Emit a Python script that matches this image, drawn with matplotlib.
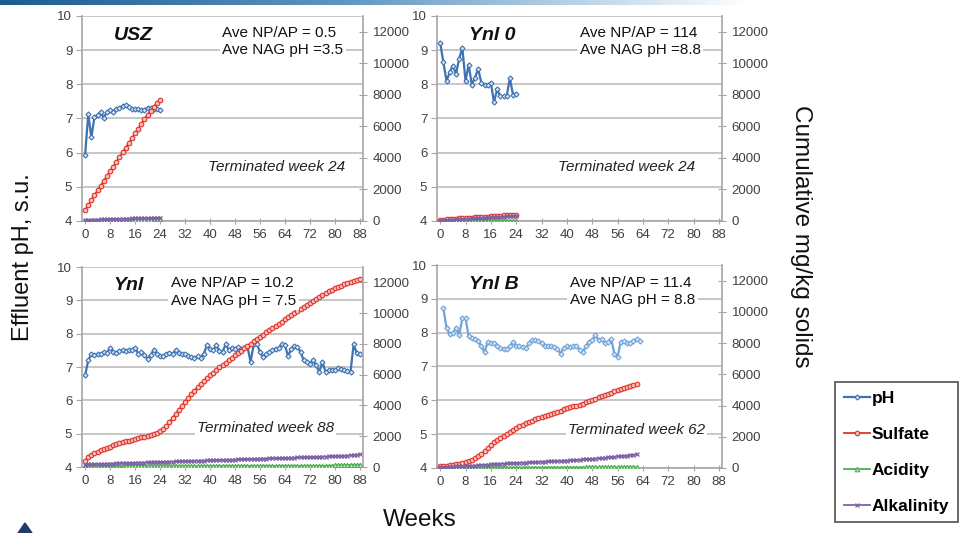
import numpy as np
import matplotlib.pyplot as plt
from matplotlib.colors import LinearSegmentedColormap
from matplotlib.patches import Polygon

plt.rcParams['font.family'] = ['Liberation Sans', 'DejaVu Sans']

W, H = 961, 533

# ---- data ----
week_ticks = list(range(0, 89, 8))

# USZ, weeks 0-24
usz_weeks = list(range(0, 25))
usz_ph = [5.94, 7.12, 6.45, 7.05, 7.1, 7.2, 7.02, 7.2, 7.25, 7.2, 7.28, 7.32, 7.37,
          7.4, 7.33, 7.28, 7.27, 7.27, 7.24, 7.25, 7.32, 7.3, 7.28, 7.27, 7.26]
usz_sulfate = [700, 1000, 1320, 1640, 1950, 2250, 2550, 2850, 3150, 3450, 3750, 4050, 4350,
               4650, 4950, 5250, 5550, 5850, 6150, 6450, 6750, 7000, 7250, 7500, 7700]
usz_acidity = [10, 10, 10, 10, 12, 12, 12, 14, 14, 15, 15, 16, 16,
               18, 18, 20, 40, 50, 60, 70, 80, 90, 100, 110, 120]
usz_alkalinity = [60, 70, 80, 90, 95, 100, 105, 110, 120, 125, 130, 135, 140,
                  150, 155, 160, 165, 170, 180, 185, 190, 200, 205, 210, 220]

# Ynl 0, weeks 0-24
ynl0_weeks = list(range(0, 25))
ynl0_ph = [9.22, 8.65, 8.1, 8.35, 8.55, 8.3, 8.75, 9.07, 8.1, 8.58, 7.98, 8.2, 8.45,
           8.05, 7.98, 7.98, 8.05, 7.48, 7.85, 7.65, 7.65, 7.65, 8.18, 7.7, 7.73]
ynl0_sulfate = [60, 80, 100, 120, 140, 150, 160, 175, 190, 200, 215, 230, 240,
                255, 270, 280, 295, 310, 320, 335, 350, 360, 375, 390, 400]
ynl0_acidity = [5, 5, 6, 6, 7, 7, 8, 8, 9, 9, 10, 10, 11,
                11, 12, 12, 13, 13, 14, 14, 15, 15, 16, 16, 17]
ynl0_alkalinity = [30, 45, 60, 75, 90, 100, 110, 125, 140, 150, 165, 180, 190,
                   200, 215, 225, 240, 250, 260, 275, 285, 300, 310, 320, 335]

# Ynl, weeks 0-88
ynl_weeks = list(range(0, 89))
ynl_ph = [6.75, 7.2, 7.38, 7.35, 7.4, 7.38, 7.45, 7.42, 7.58, 7.45,
          7.42, 7.48, 7.5, 7.48, 7.52, 7.5, 7.58, 7.4, 7.45, 7.35,
          7.25, 7.35, 7.52, 7.38, 7.32, 7.32, 7.4, 7.42, 7.4, 7.5,
          7.42, 7.38, 7.38, 7.32, 7.3, 7.28, 7.32, 7.28, 7.4, 7.65,
          7.55, 7.5, 7.65, 7.48, 7.45, 7.68, 7.52, 7.58, 7.55, 7.6,
          7.55, 7.58, 7.6, 7.15, 7.68, 7.7, 7.45, 7.3, 7.4, 7.45,
          7.5, 7.55, 7.58, 7.68, 7.65, 7.32, 7.55, 7.62, 7.6, 7.45,
          7.2, 7.15, 7.1, 7.2, 7.05, 6.85, 7.15, 6.85, 6.9, 6.92,
          6.9, 6.98, 6.95, 6.9, 6.88, 6.85, 7.68, 7.42, 7.38]
ynl_sulfate = [400, 650, 800, 900, 1000, 1080, 1160, 1240, 1320, 1400,
               1470, 1540, 1600, 1660, 1720, 1780, 1830, 1880, 1930, 1980,
               2030, 2080, 2140, 2220, 2330, 2480, 2680, 2920, 3180, 3450,
               3720, 3990, 4250, 4500, 4740, 4970, 5190, 5400, 5600, 5790,
               5970, 6140, 6310, 6470, 6630, 6790, 6950, 7110, 7270, 7420,
               7570, 7720, 7870, 8020, 8170, 8320, 8470, 8610, 8750, 8890,
               9030, 9170, 9310, 9450, 9590, 9730, 9870, 10010, 10150, 10290,
               10430, 10560, 10690, 10820, 10950, 11070, 11190, 11300, 11410, 11510,
               11610, 11700, 11790, 11870, 11950, 12030, 12100, 12170, 12240]
ynl_acidity = [20, 22, 24, 25, 26, 27, 28, 29, 30, 30,
               31, 32, 32, 33, 34, 34, 35, 36, 36, 37,
               38, 38, 39, 40, 40, 41, 42, 42, 43, 44,
               44, 45, 46, 46, 47, 48, 48, 49, 50, 50,
               51, 52, 52, 53, 54, 54, 55, 56, 56, 57,
               58, 58, 59, 60, 60, 61, 62, 62, 63, 64,
               64, 65, 66, 66, 67, 68, 68, 69, 70, 70,
               71, 72, 72, 73, 74, 74, 75, 76, 80, 90,
               100, 110, 120, 125, 130, 135, 140, 145, 150]
ynl_alkalinity = [150, 170, 180, 185, 190, 200, 205, 210, 220, 225,
                  230, 240, 245, 250, 260, 265, 270, 280, 285, 290,
                  300, 305, 310, 320, 325, 330, 340, 345, 350, 360,
                  365, 370, 380, 385, 390, 400, 405, 410, 420, 425,
                  430, 440, 445, 450, 460, 465, 470, 480, 485, 490,
                  500, 505, 510, 520, 525, 530, 540, 545, 550, 560,
                  565, 570, 580, 585, 590, 600, 605, 610, 620, 625,
                  630, 640, 645, 650, 660, 665, 670, 680, 685, 690,
                  700, 710, 720, 730, 740, 760, 780, 800, 830]

# Ynl B, pH weeks 1-63, others weeks 0-62
ynlb_ph_weeks = list(range(1, 64))
ynlb_ph = [8.72, 8.15, 7.95, 7.98, 8.15, 7.93, 8.42, 8.42, 7.9, 7.85,
           7.8, 7.75, 7.6, 7.42, 7.72, 7.68, 7.7, 7.62, 7.55, 7.52,
           7.52, 7.6, 7.72, 7.6, 7.6, 7.58, 7.55, 7.68, 7.78, 7.78,
           7.75, 7.7, 7.62, 7.6, 7.62, 7.58, 7.52, 7.38, 7.55, 7.6,
           7.58, 7.6, 7.62, 7.5, 7.42, 7.6, 7.72, 7.78, 7.92, 7.78,
           7.8, 7.7, 7.72, 7.82, 7.38, 7.28, 7.72, 7.75, 7.7, 7.68,
           7.75, 7.82, 7.75]
ynlb_weeks = list(range(0, 63))
ynlb_sulfate = [100, 120, 140, 170, 200, 230, 270, 320, 380, 440,
                520, 620, 750, 900, 1080, 1280, 1480, 1660, 1820, 1950,
                2060, 2200, 2330, 2440, 2550, 2660, 2760, 2860, 2960, 3040,
                3110, 3180, 3260, 3320, 3390, 3450, 3520, 3600, 3680, 3750,
                3830, 3880, 3940, 3990, 4050, 4130, 4210, 4290, 4370, 4450,
                4530, 4610, 4690, 4760, 4830, 4900, 4980, 5050, 5110, 5170,
                5220, 5300, 5380]
ynlb_acidity = [10, 10, 11, 11, 12, 12, 13, 13, 14, 14,
                15, 15, 16, 16, 17, 17, 18, 18, 19, 19,
                20, 20, 21, 21, 22, 22, 23, 23, 24, 24,
                25, 25, 26, 26, 27, 27, 28, 28, 29, 29,
                30, 30, 31, 31, 32, 32, 33, 33, 34, 34,
                35, 35, 36, 36, 37, 37, 38, 38, 39, 39,
                40, 40, 41]
ynlb_alkalinity = [50, 60, 70, 80, 90, 100, 110, 120, 130, 140,
                   150, 160, 170, 180, 200, 220, 240, 250, 260, 270,
                   280, 290, 300, 310, 320, 330, 340, 350, 360, 370,
                   380, 390, 400, 410, 420, 430, 440, 450, 460, 470,
                   480, 490, 500, 515, 530, 545, 560, 575, 590, 605,
                   620, 640, 660, 680, 700, 720, 740, 760, 780, 800,
                   830, 850, 870]

panels = [
    dict(box=(82, 16, 363, 221), name='USZ',
         stats='Ave NP/AP = 0.5\nAve NAG pH =3.5', stats_xy=(0.50, 0.875),
         term='Terminated week 24', term_xy=(0.45, 0.265),
         ph_x=usz_weeks, ph=usz_ph, x=usz_weeks, sulfate=usz_sulfate,
         acidity=usz_acidity, alkalinity=usz_alkalinity, ph_color='#3f72b0'),
    dict(box=(437, 16, 722, 221), name='Ynl 0',
         stats='Ave NP/AP = 114\nAve NAG pH =8.8', stats_xy=(0.50, 0.875),
         term='Terminated week 24', term_xy=(0.425, 0.265),
         ph_x=ynl0_weeks, ph=ynl0_ph, x=ynl0_weeks, sulfate=ynl0_sulfate,
         acidity=ynl0_acidity, alkalinity=ynl0_alkalinity, ph_color='#3f72b0'),
    dict(box=(82, 267, 363, 467), name='Ynl',
         stats='Ave NP/AP = 10.2\nAve NAG pH = 7.5', stats_xy=(0.317, 0.875),
         term='Terminated week 88', term_xy=(0.41, 0.195),
         ph_x=ynl_weeks, ph=ynl_ph, x=ynl_weeks, sulfate=ynl_sulfate,
         acidity=ynl_acidity, alkalinity=ynl_alkalinity, ph_color='#3f72b0'),
    dict(box=(437, 265, 722, 468), name='Ynl B',
         stats='Ave NP/AP = 11.4\nAve NAG pH = 8.8', stats_xy=(0.467, 0.87),
         term='Terminated week 62', term_xy=(0.46, 0.187),
         ph_x=ynlb_ph_weeks, ph=ynlb_ph, x=ynlb_weeks, sulfate=ynlb_sulfate,
         acidity=ynlb_acidity, alkalinity=ynlb_alkalinity, ph_color='#6fa3da'),
]

sulfate_color = '#e0332b'
acidity_color = '#4caf50'
alkalinity_color = '#7e62a8'
axis_gray = '#a6a6a6'
label_gray = '#404040'

fig = plt.figure(figsize=(W / 100, H / 100), dpi=100)

handles = None
for p in panels:
    l, t, r, b = p['box']
    ax = fig.add_axes([l / W, 1 - b / H, (r - l) / W, (b - t) / H])
    ax.set_xlim(-1, 89)
    ax.set_ylim(4, 10)
    ax.set_xticks(week_ticks)
    ax.set_yticks(range(4, 11))
    ax.grid(axis='y', color='#bdbdbd', lw=1.2)
    ax.set_axisbelow(True)
    for s in ['top', 'right']:
        ax.spines[s].set_visible(False)
    for s in ['left', 'bottom']:
        ax.spines[s].set_color(axis_gray)
        ax.spines[s].set_linewidth(1.2)
    ax.tick_params(axis='y', direction='out', length=4, color=axis_gray,
                   labelsize=9.5, labelcolor=label_gray, pad=3)
    ax.tick_params(axis='x', direction='inout', length=5, color=axis_gray,
                   labelsize=9.5, labelcolor=label_gray, pad=3)

    ax2 = ax.twinx()
    ax2.set_ylim(0, 13000)
    ax2.set_yticks(range(0, 12001, 2000))
    for s in ['top', 'left', 'bottom']:
        ax2.spines[s].set_visible(False)
    ax2.spines['right'].set_color(axis_gray)
    ax2.spines['right'].set_linewidth(1.2)
    ax2.tick_params(axis='y', direction='inout', length=6, color=axis_gray,
                    labelsize=9.5, labelcolor=label_gray, pad=4)

    h1, = ax.plot(p['ph_x'], p['ph'], color=p['ph_color'], lw=1.6, marker='D',
                  ms=2.6, mfc='#d6e4f4', mec=p['ph_color'], mew=0.8, label='pH')
    h2, = ax2.plot(p['x'], p['sulfate'], color=sulfate_color, lw=1.3, marker='o',
                   ms=3.3, mfc='#f7c1bb', mec=sulfate_color, mew=0.8, label='Sulfate')
    h3, = ax2.plot(p['x'], p['acidity'], color=acidity_color, lw=1.3, marker='^',
                   ms=3.3, mfc='#c5e8c5', mec=acidity_color, mew=0.8, label='Acidity')
    h4, = ax2.plot(p['x'], p['alkalinity'], color=alkalinity_color, lw=1.3, marker='x',
                   ms=3.3, mew=0.9, label='Alkalinity')
    if handles is None:
        handles = [h1, h2, h3, h4]

    ax2.text(0.112, 0.905, p['name'], transform=ax.transAxes, fontsize=14,
             fontweight='bold', style='italic', va='center', ha='left', color='#111111',
             zorder=6)
    ax2.text(p['stats_xy'][0], p['stats_xy'][1], p['stats'], transform=ax.transAxes,
             fontsize=11, va='center', ha='left', color='#111111', linespacing=1.3,
             bbox=dict(facecolor='white', edgecolor='none', pad=2), zorder=6)
    ax2.text(p['term_xy'][0], p['term_xy'][1], p['term'], transform=ax.transAxes,
             fontsize=11, style='italic', va='center', ha='left', color='#222222',
             bbox=dict(facecolor='white', edgecolor='none', pad=1.5), zorder=6)

fig.text(23 / W, 1 - 257 / H, 'Effluent pH, s.u.', rotation=90, fontsize=17,
         ha='center', va='center', color='#111111')
fig.text(801 / W, 1 - 236 / H, 'Cumulative mg/kg solids', rotation=270, fontsize=17.5,
         ha='center', va='center', color='#111111')
fig.text(420 / W, 1 - 520 / H, 'Weeks', fontsize=17.5, ha='center', va='center',
         color='#111111')

leg = fig.legend(handles, ['pH', 'Sulfate', 'Acidity', 'Alkalinity'], loc='upper left',
                 bbox_to_anchor=(835 / W, 1 - 382 / H), frameon=True, fancybox=False,
                 prop=dict(weight='bold', size=12.5), labelspacing=1.2,
                 handlelength=1.5, handletextpad=0.1, borderpad=0.5, borderaxespad=0,
                 framealpha=1)
leg.get_frame().set_edgecolor('#505050')
leg.get_frame().set_linewidth(1.2)

# header gradient bar and corner mark
bar = fig.add_axes([0, 1 - 5 / H, 1, 5 / H])
bar_cmap = LinearSegmentedColormap.from_list(
    'bar', [(0, '#1d5b8f'), (0.35, '#5d94c0'), (0.6, '#b9d2e6'), (0.78, '#ffffff'), (1, '#ffffff')])
bar.imshow(np.linspace(0, 1, 256)[None, :], aspect='auto', cmap=bar_cmap)
bar.axis('off')
fig.patches.append(Polygon([[18 / W, 0], [32 / W, 0], [25 / W, 10 / H]], closed=True,
                           transform=fig.transFigure, color='#1f3a6b'))

fig.savefig('out.png', dpi=100)
